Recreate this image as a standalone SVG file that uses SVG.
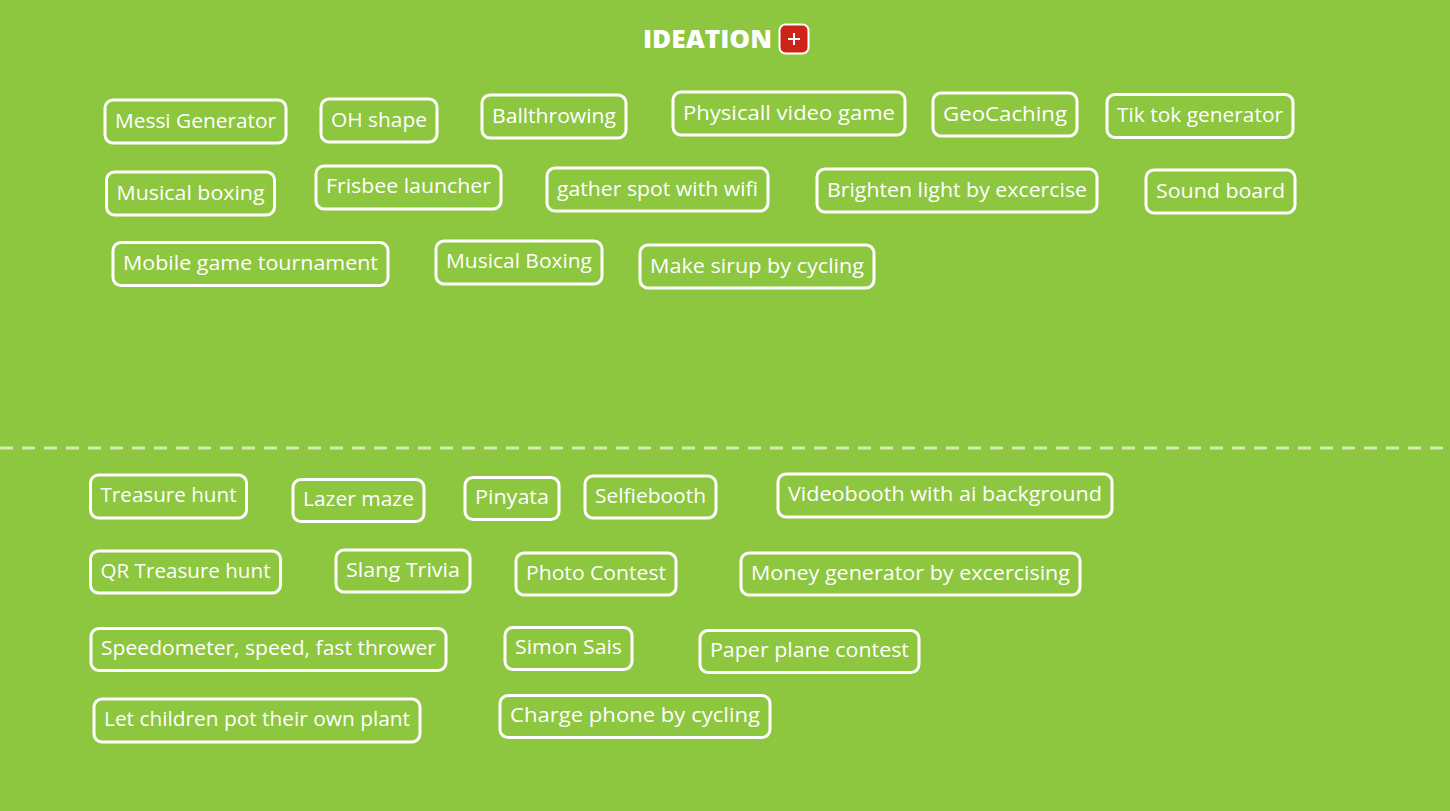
<svg xmlns="http://www.w3.org/2000/svg" width="1450" height="811" viewBox="0 0 1450 811">
<style>
.bg{fill:#8dc63f}
.card rect{fill:none;stroke:#ffffff;stroke-width:3}
.card text{fill:#ffffff;font-family:"Open Sans","Liberation Sans",sans-serif;font-size:20px;font-weight:500;text-anchor:middle}
.title{fill:#ffffff;font-family:"Open Sans","Liberation Sans",sans-serif;font-weight:800;font-size:25px}
.divider{stroke:#d3eab3;stroke-width:3;stroke-dasharray:13 9}
</style>
<rect class="bg" x="0" y="0" width="1450" height="811"/>
<g id="header">
<text class="title" x="643" y="48" textLength="129" lengthAdjust="spacingAndGlyphs">IDEATION</text>
<rect x="779.5" y="24.5" width="29" height="29" rx="6" fill="#cc2418" stroke="#ffffff" stroke-width="2"/>
<path d="M794 33v12M788 39h12" stroke="#ffffff" stroke-width="2"/>
</g>
<line class="divider" x1="0" y1="448" x2="1450" y2="448"/>
<g id="connectors"></g>

<g id="n1" class="card"><rect x="105" y="100" width="181" height="43" rx="8"/><text x="195.5" y="128" textLength="161" lengthAdjust="spacingAndGlyphs">Messi Generator</text></g>
<g id="n2" class="card"><rect x="321" y="99" width="116" height="43" rx="8"/><text x="379" y="127" textLength="96" lengthAdjust="spacingAndGlyphs">OH shape</text></g>
<g id="n3" class="card"><rect x="482" y="95" width="144" height="43" rx="8"/><text x="554" y="123" textLength="124" lengthAdjust="spacingAndGlyphs">Ballthrowing</text></g>
<g id="n4" class="card"><rect x="673" y="92" width="232" height="43" rx="8"/><text x="789" y="120" textLength="212" lengthAdjust="spacingAndGlyphs">Physicall video game</text></g>
<g id="n5" class="card"><rect x="933" y="93" width="144" height="43" rx="8"/><text x="1005" y="121" textLength="124" lengthAdjust="spacingAndGlyphs">GeoCaching</text></g>
<g id="n6" class="card"><rect x="1107" y="94.5" width="186" height="43" rx="8"/><text x="1200" y="122" textLength="166" lengthAdjust="spacingAndGlyphs">Tik tok generator</text></g>

<g id="n7" class="card"><rect x="106.5" y="172" width="168" height="43" rx="8"/><text x="190.5" y="200" textLength="148" lengthAdjust="spacingAndGlyphs">Musical boxing</text></g>
<g id="n8" class="card"><rect x="316" y="166" width="185" height="43" rx="8"/><text x="408.5" y="193" textLength="165" lengthAdjust="spacingAndGlyphs">Frisbee launcher</text></g>
<g id="n9" class="card"><rect x="547" y="168" width="221" height="43" rx="8"/><text x="657.5" y="196" textLength="201" lengthAdjust="spacingAndGlyphs">gather spot with wifi</text></g>
<g id="n10" class="card"><rect x="817" y="169" width="280" height="43" rx="8"/><text x="957" y="197" textLength="260" lengthAdjust="spacingAndGlyphs">Brighten light by excercise</text></g>
<g id="n11" class="card"><rect x="1146" y="170" width="149" height="43" rx="8"/><text x="1220.5" y="198" textLength="129" lengthAdjust="spacingAndGlyphs">Sound board</text></g>

<g id="n12" class="card"><rect x="113" y="242.5" width="275" height="43" rx="8"/><text x="250.5" y="270" textLength="255" lengthAdjust="spacingAndGlyphs">Mobile game tournament</text></g>
<g id="n13" class="card"><rect x="436" y="241" width="166" height="43" rx="8"/><text x="519" y="268" textLength="146" lengthAdjust="spacingAndGlyphs">Musical Boxing</text></g>
<g id="n14" class="card"><rect x="640" y="245" width="234" height="43" rx="8"/><text x="757" y="273" textLength="214" lengthAdjust="spacingAndGlyphs">Make sirup by cycling</text></g>

<g id="n15" class="card"><rect x="90.5" y="475" width="156" height="43" rx="8"/><text x="168.5" y="502" textLength="136" lengthAdjust="spacingAndGlyphs">Treasure hunt</text></g>
<g id="n16" class="card"><rect x="293" y="479.5" width="131" height="42" rx="8"/><text x="358.5" y="506" textLength="111" lengthAdjust="spacingAndGlyphs">Lazer maze</text></g>
<g id="n17" class="card"><rect x="465" y="477.5" width="94" height="42" rx="8"/><text x="512" y="504" textLength="74" lengthAdjust="spacingAndGlyphs">Pinyata</text></g>
<g id="n18" class="card"><rect x="585" y="476" width="131" height="42" rx="8"/><text x="650.5" y="503" textLength="111" lengthAdjust="spacingAndGlyphs">Selfiebooth</text></g>
<g id="n19" class="card"><rect x="778" y="474" width="334" height="43" rx="8"/><text x="945" y="501" textLength="314" lengthAdjust="spacingAndGlyphs">Videobooth with ai background</text></g>

<g id="n20" class="card"><rect x="90.5" y="551" width="190" height="42" rx="8"/><text x="185.5" y="578" textLength="170" lengthAdjust="spacingAndGlyphs">QR Treasure hunt</text></g>
<g id="n21" class="card"><rect x="336" y="550" width="134" height="42" rx="8"/><text x="403" y="577" textLength="114" lengthAdjust="spacingAndGlyphs">Slang Trivia</text></g>
<g id="n22" class="card"><rect x="516" y="553" width="160" height="42" rx="8"/><text x="596" y="580" textLength="140" lengthAdjust="spacingAndGlyphs">Photo Contest</text></g>
<g id="n23" class="card"><rect x="741" y="553" width="339" height="42" rx="8"/><text x="910.5" y="580" textLength="319" lengthAdjust="spacingAndGlyphs">Money generator by excercising</text></g>

<g id="n24" class="card"><rect x="91" y="628.5" width="355" height="42" rx="8"/><text x="268.5" y="655" textLength="335" lengthAdjust="spacingAndGlyphs">Speedometer, speed, fast thrower</text></g>
<g id="n25" class="card"><rect x="505" y="627.5" width="127" height="42" rx="8"/><text x="568.5" y="654" textLength="107" lengthAdjust="spacingAndGlyphs">Simon Sais</text></g>
<g id="n26" class="card"><rect x="700" y="630.5" width="219" height="42" rx="8"/><text x="809.5" y="657" textLength="199" lengthAdjust="spacingAndGlyphs">Paper plane contest</text></g>

<g id="n27" class="card"><rect x="94" y="699" width="326" height="43" rx="8"/><text x="257" y="726" textLength="306" lengthAdjust="spacingAndGlyphs">Let children pot their own plant</text></g>
<g id="n28" class="card"><rect x="500" y="695.5" width="270" height="42" rx="8"/><text x="635" y="722" textLength="250" lengthAdjust="spacingAndGlyphs">Charge phone by cycling</text></g>
</svg>
